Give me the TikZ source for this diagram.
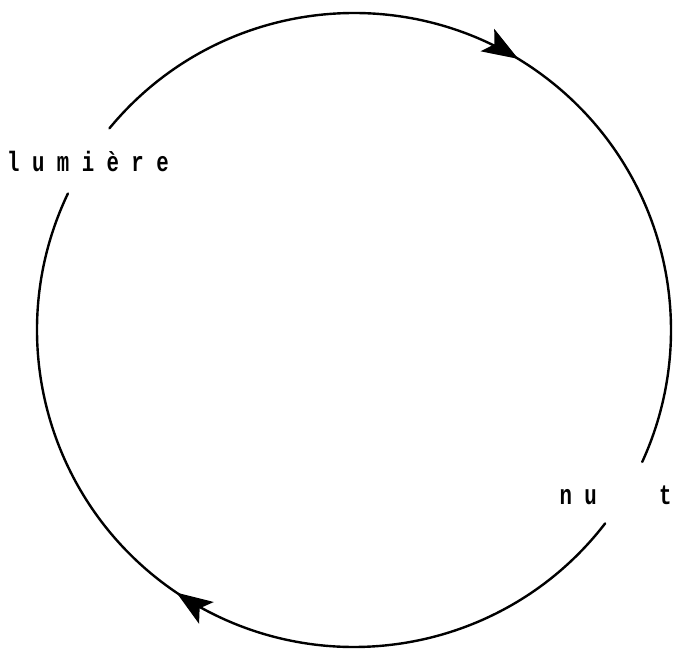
\documentclass[tikz,border=0pt]{standalone}
\usepackage{fontspec}
\usepackage{tikz}
\usetikzlibrary{arrows.meta,decorations.markings,calc}
\newfontfamily\typewriter[FakeStretch=0.74]{Liberation Mono}

\begin{document}
\begin{tikzpicture}[
  x=1pt, y=1pt,
  word/.style={font=\typewriter\bfseries\fontsize{28}{28}\selectfont, inner sep=0pt, anchor=base},
  cyc/.style={line width=2.4pt, line cap=round},
  tip/.style={postaction={decorate, decoration={markings,
      mark=at position #1 with {\arrow{Stealth[length=36pt,width=26pt,inset=8pt]}}}}},
]
\useasboundingbox (0,0) rectangle (673,650);
\coordinate (c) at (354,320);
\node[word] (lum)  at (88,478)  {l u m i è r e};
\node[word] (nuit) at (615.5,145) {n u~~~~~t};
% starts of the two arcs, beside the words
\coordinate (lumout) at ($(c)+(140.5:317pt)$);
\coordinate (nuitout) at ($(c)+(-37.6:317pt)$);
\draw[cyc, tip=0.495] (lumout) arc[start angle=140.5, end angle=-24.6, radius=317pt];
\draw[cyc, tip=0.515] (nuitout) arc[start angle=-37.6, end angle=-205.5, radius=317pt];
\end{tikzpicture}
\end{document}
